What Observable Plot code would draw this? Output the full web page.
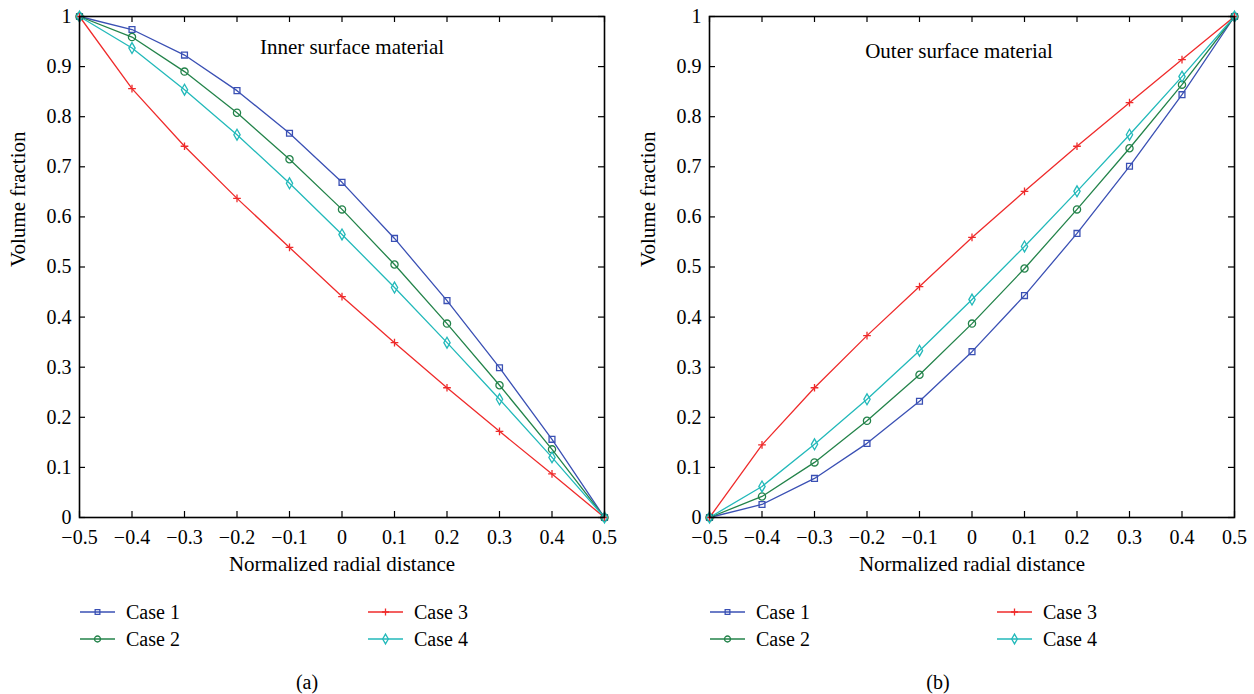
<!DOCTYPE html>
<html>
<head>
<meta charset="utf-8">
<script src="https://cdn.jsdelivr.net/npm/d3@7"></script>
<script src="https://cdn.jsdelivr.net/npm/@observablehq/plot@0.6"></script>
<style>
  html, body { margin: 0; padding: 0; background: #fff; }
  #wrap { position: relative; width: 1254px; height: 694px; background: #fff; font-family: "Liberation Serif", "DejaVu Serif", serif; }
  .panel { position: absolute; top: 0; }
  #legend { position: absolute; left: 0; top: 580px; }
</style>
</head>
<body>
<div id="wrap">
  <div id="pa" class="panel" style="left:0px"></div>
  <div id="pb" class="panel" style="left:627px"></div>
  <div id="legend"></div>
</div>
<script>
// ---- data ----
const xValues = [-0.5, -0.4, -0.3, -0.2, -0.1, 0, 0.1, 0.2, 0.3, 0.4, 0.5];
const xTicks = [-0.5, -0.4, -0.3, -0.2, -0.1, 0, 0.1, 0.2, 0.3, 0.4, 0.5];
const yTicks = [0, 0.1, 0.2, 0.3, 0.4, 0.5, 0.6, 0.7, 0.8, 0.9, 1];
const caseNames = ["Case 1", "Case 2", "Case 3", "Case 4"];

const innerCase1 = [1, 0.974, 0.923, 0.852, 0.767, 0.669, 0.557, 0.433, 0.299, 0.156, 0];
const innerCase2 = [1, 0.959, 0.890, 0.808, 0.715, 0.615, 0.505, 0.387, 0.264, 0.136, 0];
const innerCase3 = [1, 0.856, 0.741, 0.637, 0.539, 0.441, 0.349, 0.259, 0.172, 0.087, 0];
const innerCase4 = [1, 0.937, 0.854, 0.764, 0.667, 0.565, 0.459, 0.349, 0.236, 0.120, 0];

const outerCase1 = [0, 0.026, 0.078, 0.148, 0.232, 0.331, 0.443, 0.567, 0.701, 0.844, 1];
const outerCase2 = [0, 0.042, 0.110, 0.193, 0.285, 0.387, 0.497, 0.615, 0.737, 0.864, 1];
const outerCase3 = [0, 0.145, 0.259, 0.363, 0.461, 0.559, 0.651, 0.741, 0.828, 0.914, 1];
const outerCase4 = [0, 0.062, 0.146, 0.236, 0.333, 0.435, 0.541, 0.651, 0.764, 0.880, 1];

const panelLabels = ["(a)", "(b)"];
const annotations = ["Inner surface material", "Outer surface material"];
const xLabel = "Normalized radial distance";
const yLabel = "Volume fraction";

// ---- styles ----
const colors = {"Case 1": "#3a50b4", "Case 2": "#23834a", "Case 3": "#ef2b2b", "Case 4": "#22b9ba"};
const symbols = {"Case 1": "square", "Case 2": "circle", "Case 3": "plus", "Case 4": "diamond"};
const radii = {"Case 1": 3.3, "Case 2": 3.6, "Case 3": 2.6, "Case 4": 3.3};
const FONT = "Liberation Serif, DejaVu Serif, serif";

function rows(series) {
  const out = [];
  series.forEach((vals, i) => {
    vals.forEach((v, j) => out.push({x: xValues[j], y: v, c: caseNames[i]}));
  });
  return out;
}

function panel(series, annotation, opts) {
  const W = 627, H = 580;
  const mt = 16, mb = 63, ml = opts.ml, mr = W - ml - 525;
  const plotW = W - ml - mr, plotH = H - mt - mb;
  const data = rows(series);
  const marks = [];
  caseNames.forEach(c => {
    const d = data.filter(r => r.c === c);
    marks.push(Plot.line(d, {x: "x", y: "y", stroke: colors[c], strokeWidth: 1.3}));
  });
  caseNames.forEach(c => {
    const d = data.filter(r => r.c === c);
    marks.push(Plot.dot(d, {x: "x", y: "y", stroke: colors[c], fill: "none", symbol: () => symbols[c], r: radii[c], strokeWidth: 1.3}));
  });
  // inward ticks on all four sides
  marks.push(Plot.tickX(xTicks, {x: d => d, insetTop: plotH - 6, stroke: "black", strokeWidth: 1.2}));
  marks.push(Plot.tickX(xTicks, {x: d => d, insetBottom: plotH - 6, stroke: "black", strokeWidth: 1.2}));
  marks.push(Plot.tickY(yTicks, {y: d => d, insetRight: plotW - 6, stroke: "black", strokeWidth: 1.2}));
  marks.push(Plot.tickY(yTicks, {y: d => d, insetLeft: plotW - 6, stroke: "black", strokeWidth: 1.2}));
  marks.push(Plot.frame({stroke: "black", strokeWidth: 1.6}));
  marks.push(Plot.text([annotation], {text: d => d, frameAnchor: "top", lineAnchor: "middle", dx: opts.adx, dy: opts.ady, fontSize: 21, fill: "black"}));
  marks.push(Plot.text([xLabel], {text: d => d, frameAnchor: "bottom", lineAnchor: "middle", dy: 47, fontSize: 21, fill: "black"}));
  marks.push(Plot.text([yLabel], {text: d => d, frameAnchor: "left", lineAnchor: "middle", rotate: -90, dx: -61, fontSize: 21, fill: "black"}));
  return Plot.plot({
    width: W, height: H,
    marginTop: mt, marginBottom: mb, marginLeft: ml, marginRight: mr,
    style: {fontFamily: FONT, fontSize: "20px", color: "black", background: "white", overflow: "visible"},
    x: {domain: [-0.5, 0.5], ticks: xTicks, tickFormat: d3.format(""), tickSize: 0, tickPadding: 12, label: null},
    y: {domain: [0, 1], ticks: yTicks, tickFormat: d3.format(""), tickSize: 0, tickPadding: 8, label: null},
    marks
  });
}

document.getElementById("pa").appendChild(panel([innerCase1, innerCase2, innerCase3, innerCase4], annotations[0], {ml: 79, adx: 10, ady: 31}));
document.getElementById("pb").appendChild(panel([outerCase1, outerCase2, outerCase3, outerCase4], annotations[1], {ml: 82, adx: -13, ady: 35}));

// ---- legends and panel labels ----
const svg = d3.select("#legend").append("svg").attr("width", 1254).attr("height", 114)
  .style("font-family", FONT).style("font-size", "20px");
const d3sym = {"square": d3.symbolSquare, "circle": d3.symbolCircle, "plus": d3.symbolPlus, "diamond": d3.symbolDiamond};
const legendLayout = [
  {x0: 80, x1: 368},
  {x0: 710, x1: 997}
];
legendLayout.forEach((L, p) => {
  caseNames.forEach((c, i) => {
    const col = i < 2 ? 0 : 1;
    const row = i % 2;
    const lx = col === 0 ? L.x0 : L.x1;
    const ly = 32 + row * 27;
    const g = svg.append("g");
    g.append("line").attr("x1", lx).attr("x2", lx + 35).attr("y1", ly).attr("y2", ly)
      .attr("stroke", colors[c]).attr("stroke-width", 1.3);
    g.append("path").attr("d", d3.symbol(d3sym[symbols[c]], c === "Case 1" ? 22 : (c === "Case 3" ? 18 : 28))())
      .attr("transform", `translate(${lx + 17.5},${ly})`)
      .attr("fill", "none").attr("stroke", colors[c]).attr("stroke-width", 1.3);
    g.append("text").attr("x", lx + 46).attr("y", ly).attr("dy", "0.35em").text(c);
  });
  svg.append("text").attr("x", p === 0 ? 307 : 938).attr("y", 102).attr("dy", "0.35em")
    .attr("text-anchor", "middle").text(panelLabels[p]);
});
</script>
</body>
</html>
